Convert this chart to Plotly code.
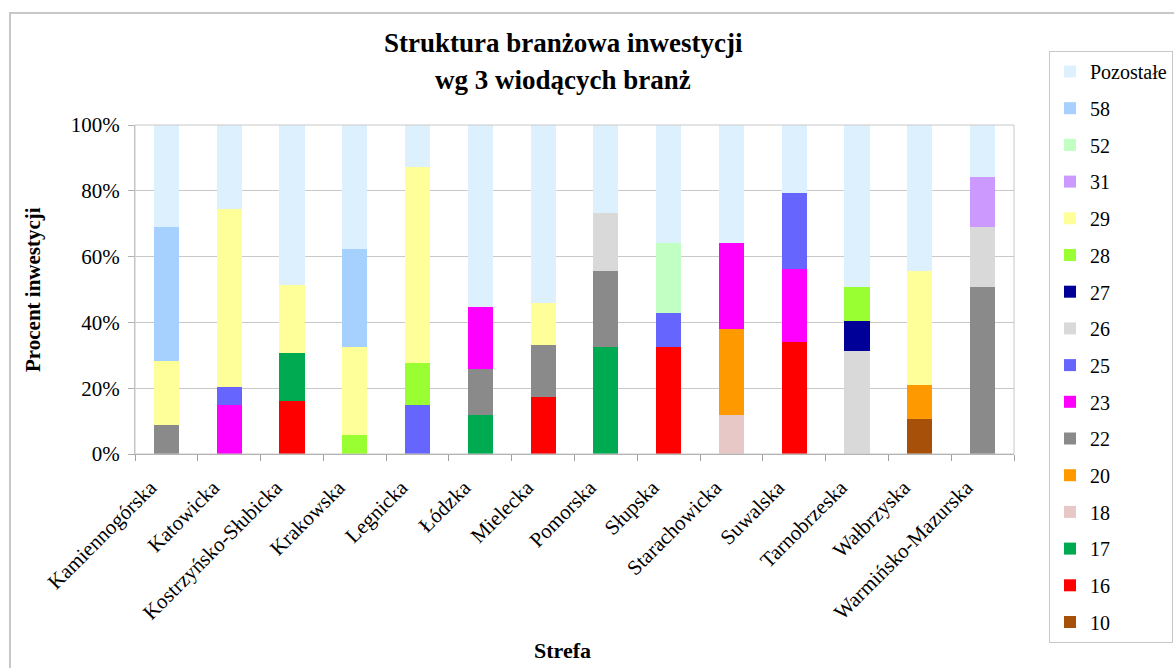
import plotly.graph_objects as go

categories = ["Kamiennogórska", "Katowicka", "Kostrzyńsko-Słubicka", "Krakowska",
              "Legnicka", "Łódzka", "Mielecka", "Pomorska", "Słupska",
              "Starachowicka", "Suwalska", "Tarnobrzeska", "Wałbrzyska",
              "Warmińsko-Mazurska"]

s10 = [0, 0, 0, 0, 0, 0, 0, 0, 0, 0, 0, 0, 10.6, 0]
s16 = [0, 0, 16.1, 0, 0, 0, 17.3, 0, 32.5, 0, 34.1, 0, 0, 0]
s17 = [0, 0, 14.6, 0, 0, 11.9, 0, 32.5, 0, 0, 0, 0, 0, 0]
s18 = [0, 0, 0, 0, 0, 0, 0, 0, 0, 11.9, 0, 0, 0, 0]
s20 = [0, 0, 0, 0, 0, 0, 0, 0, 0, 26.1, 0, 0, 10.4, 0]
s22 = [8.8, 0, 0, 0, 0, 13.9, 15.8, 23.1, 0, 0, 0, 0, 0, 50.8]
s23 = [0, 14.9, 0, 0, 0, 18.9, 0, 0, 0, 26.1, 22.1, 0, 0, 0]
s25 = [0, 5.5, 0, 0, 14.9, 0, 0, 0, 10.4, 0, 23.1, 0, 0, 0]
s26 = [0, 0, 0, 0, 0, 0, 0, 17.7, 0, 0, 0, 31.3, 0, 18.2]
s27 = [0, 0, 0, 0, 0, 0, 0, 0, 0, 0, 0, 9.1, 0, 0]
s28 = [0, 0, 0, 5.8, 12.8, 0, 0, 0, 0, 0, 0, 10.4, 0, 0]
s29 = [19.5, 54.1, 20.7, 26.7, 59.5, 0, 12.8, 0, 0, 0, 0, 0, 34.6, 0]
s31 = [0, 0, 0, 0, 0, 0, 0, 0, 0, 0, 0, 0, 0, 15.2]
s52 = [0, 0, 0, 0, 0, 0, 0, 0, 21.2, 0, 0, 0, 0, 0]
s58 = [40.7, 0, 0, 29.8, 0, 0, 0, 0, 0, 0, 0, 0, 0, 0]
pozostale = [31.0, 25.5, 48.6, 37.7, 12.8, 55.3, 54.1, 26.7, 35.9, 35.9, 20.7, 49.2, 44.4, 15.8]

series = [
    ("10", s10, "#A6500A"),
    ("16", s16, "#FF0000"),
    ("17", s17, "#00AA50"),
    ("18", s18, "#E8C8C6"),
    ("20", s20, "#FF9900"),
    ("22", s22, "#8A8A8A"),
    ("23", s23, "#FF00FF"),
    ("25", s25, "#6666FF"),
    ("26", s26, "#D9D9D9"),
    ("27", s27, "#000099"),
    ("28", s28, "#99FF33"),
    ("29", s29, "#FFFF99"),
    ("31", s31, "#CC99FF"),
    ("52", s52, "#C2FFC2"),
    ("58", s58, "#A6D0FE"),
    ("Pozostałe", pozostale, "#DCF0FD"),
]

W, H = 1174, 668
L, R, T, B = 135, 1014, 125, 454
pw, ph = R - L, B - T


def px(x):
    return (x - L) / pw


def py(y):
    return (B - y) / ph


FONT = "Liberation Serif, Times New Roman, serif"

fig = go.Figure()
n = len(series)
for i, (name, vals, col) in enumerate(series):
    fig.add_trace(go.Bar(x=categories, y=vals, name=name, marker_color=col,
                         marker_line_width=0, legendgroup=name,
                         legendrank=n - i))

fig.update_layout(
    width=W, height=H,
    margin=dict(l=L, r=W - R, t=T, b=H - B, autoexpand=False),
    barmode="stack", bargap=0.6,
    paper_bgcolor="white", plot_bgcolor="white",
    font=dict(family=FONT, color="black", size=18),
    showlegend=True,
    legend=dict(x=px(1049), y=py(51), xanchor="left", yanchor="top",
                traceorder="grouped", tracegroupgap=7.7, maxheight=640,
                bordercolor="#C8C8C8", borderwidth=1, bgcolor="white",
                font=dict(family=FONT, size=20)),
    xaxis=dict(type="category", tickangle=-45, tickson="boundaries",
               ticks="outside", ticklen=6, tickcolor="#A0A0A0",
               showline=True, linecolor="#A0A0A0", linewidth=1,
               showgrid=False, ticklabelshift=-16, ticklabelstandoff=12,
               tickfont=dict(family=FONT, size=21)),
    yaxis=dict(range=[0, 100], dtick=20, ticksuffix="%",
               ticks="outside", ticklen=6, tickcolor="#B0B0B0",
               showline=True, linecolor="#C0C0C0", linewidth=1,
               showgrid=True, gridcolor="#C8C8C8", gridwidth=1,
               zeroline=False, ticklabelstandoff=4,
               tickfont=dict(family=FONT, size=21)),
    shapes=[
        dict(type="rect", xref="paper", yref="paper",
             x0=px(L), x1=px(R), y0=py(B), y1=py(T),
             line=dict(color="#C8C8C8", width=1), layer="above"),
        dict(type="rect", xref="paper", yref="paper",
             x0=px(10), x1=px(1190), y0=py(690), y1=py(13),
             line=dict(color="#C8C8C8", width=2), layer="below"),
    ],
    annotations=[
        dict(text="<b>Struktura branżowa inwestycji</b>", xref="paper", yref="paper",
             x=px(563), y=py(43), xanchor="center", yanchor="middle",
             showarrow=False, font=dict(family=FONT, size=27)),
        dict(text="<b>wg 3 wiodących branż</b>", xref="paper", yref="paper",
             x=px(563), y=py(80), xanchor="center", yanchor="middle",
             showarrow=False, font=dict(family=FONT, size=27)),
        dict(text="<b>Procent inwestycji</b>", xref="paper", yref="paper",
             x=px(33), y=py(290), xanchor="center", yanchor="middle",
             textangle=-90, showarrow=False, font=dict(family=FONT, size=21)),
        dict(text="<b>Strefa</b>", xref="paper", yref="paper",
             x=px(562), y=py(650), xanchor="center", yanchor="middle",
             showarrow=False, font=dict(family=FONT, size=22)),
    ],
)

fig.write_html("out.html", config={"displayModeBar": False},
               post_script="document.body.style.margin='0';document.body.style.overflow='hidden';")
